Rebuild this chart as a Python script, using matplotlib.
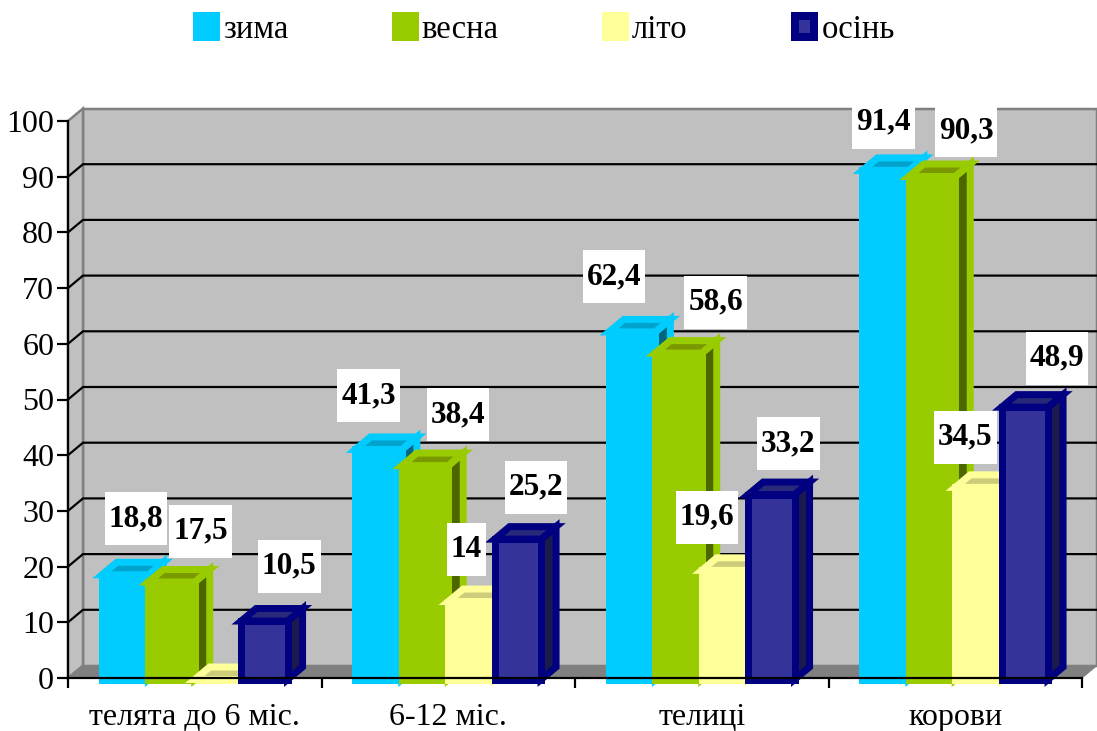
import matplotlib
matplotlib.use("Agg")
import matplotlib.pyplot as plt
from matplotlib.patches import Polygon, Patch
from matplotlib.path import Path

plt.rcParams['font.family'] = ['Liberation Serif', 'DejaVu Serif']

categories = ["телята до 6 міс.", "6-12 міс.", "телиці", "корови"]
series_names = ["зима", "весна", "літо", "осінь"]
winter = [18.8, 41.3, 62.4, 91.4]
spring = [17.5, 38.4, 58.6, 90.3]
summer = [0, 14, 19.6, 34.5]
autumn = [10.5, 25.2, 33.2, 48.9]
value_ticks = list(range(0, 101, 10))
# Labels printed on the chart ("" = none, as in the source)
winter_labels = ["18,8", "41,3", "62,4", "91,4"]
spring_labels = ["17,5", "38,4", "58,6", "90,3"]
summer_labels = ["", "14", "19,6", "34,5"]
autumn_labels = ["10,5", "25,2", "33,2", "48,9"]

series = [winter, spring, summer, autumn]
labels = [winter_labels, spring_labels, summer_labels, autumn_labels]

# Styles: edge, front, top, side
STYLES = [
    ("#00CCFF", "#00CCFF", "#00A3CC", "#006680"),
    ("#99CC00", "#99CC00", "#7A9900", "#4D6600"),
    ("#FFFF99", "#FFFF99", "#CCCC7A", "#808050"),
    ("#000080", "#333399", "#29297A", "#1A1A4D"),
]
# Label displacement from top centre of each bar, pixels (right, up)
LABEL_OFFSETS = [
    [(11, 56), (-10, 54), (-18, 55), (-2, 48)],
    [(29, 51), (33, 51), (37, 51), (34, 46)],
    [(0, 0), (-5, 52), (-18, 53), (-13, 50)],
    [(25, 55), (18, 52), (17, 51), (32, 49)],
]

W, H, DPI = 1097, 731, 100
PX = 72 / DPI
L, R, T, B = 68, 1082, 121, 678
CAT_PX = (R - L) / 4
VAL_PX = (B - T) / 100
DX = 15 / CAT_PX
DY = 12.5 / VAL_PX
BAR_W = 46.4 / CAT_PX
GAP = (1 - 4 * BAR_W) / 2
BASE = -1.5 / VAL_PX
STROKE = 7 * PX


class FixedBox:
    """White label box with a fixed height and fixed width (pixels)."""
    def __call__(self, x0, y0, width, height, mutation_size):
        cy = y0 + height / 2
        cx = x0 + width / 2
        half = width / 2 + 4
        xa, xb = cx - half, cx + half
        ya, yb = cy - 26.5, cy + 26.5
        return Path([(xa, ya), (xb, ya), (xb, yb), (xa, yb), (xa, ya)],
                    closed=True)


fig = plt.figure(figsize=(W / DPI, H / DPI), dpi=DPI, facecolor="white")
ax = fig.add_axes([L / W, 1 - B / H, (R - L) / W, (B - T) / H])
ax.set_xlim(0, 4)
ax.set_ylim(0, 100)
ax.patch.set_visible(False)

# Walls and floor
wall_kw = dict(closed=True, clip_on=False, joinstyle="miter")
ax.add_patch(Polygon([(DX, DY), (4 + DX, DY), (4 + DX, 100 + DY), (DX, 100 + DY)],
                     fc="#C0C0C0", ec="#808080", lw=2.5 * PX, zorder=1, **wall_kw))
ax.add_patch(Polygon([(0, 0), (DX, DY), (DX, 100 + DY), (0, 100)],
                     fc="#C0C0C0", ec="#808080", lw=2.5 * PX, zorder=1, **wall_kw))
ax.add_patch(Polygon([(0, 0), (DX, DY), (4 + DX, DY), (4, 0)],
                     fc="#808080", ec="#808080", lw=1 * PX, zorder=1.1, **wall_kw))
for v in value_ticks[1:-1]:
    ax.plot([0, DX, 4 + DX], [v, v + DY, v + DY], color="black", lw=2.2 * PX,
            clip_on=False, zorder=1.2, solid_joinstyle="miter")

# Bars
z = 3.0
for c in range(len(categories)):
    for s, vals in enumerate(series):
        v = vals[c]
        edge, front, top, side = STYLES[s]
        x0 = c + GAP + s * BAR_W
        x1 = x0 + BAR_W
        y0, y1 = BASE, BASE + v
        ax.add_patch(Polygon([(x1, y0), (x1 + DX, y0 + DY), (x1 + DX, y1 + DY), (x1, y1)],
                             fc=side, ec=edge, lw=STROKE, zorder=z, **wall_kw))
        ax.add_patch(Polygon([(x0, y1), (x0 + DX, y1 + DY), (x1 + DX, y1 + DY), (x1, y1)],
                             fc=top, ec=edge, lw=STROKE, zorder=z, **wall_kw))
        ax.bar(x0, v, width=BAR_W, bottom=BASE, align="edge", color=front,
               edgecolor=edge, linewidth=STROKE, clip_on=False, zorder=z + 0.01)
        z += 0.1

# Data labels
for c in range(len(categories)):
    for s, vals in enumerate(series):
        text = labels[s][c]
        if not text:
            continue
        xc = c + GAP + (s + 0.5) * BAR_W
        ox, oy = LABEL_OFFSETS[s][c]
        ax.annotate(text, xy=(xc, BASE + vals[c]), xytext=(ox * PX, oy * PX),
                    textcoords="offset points", ha="center", va="center",
                    fontsize=22.5, fontweight="bold", color="black",
                    annotation_clip=False, zorder=100,
                    bbox=dict(boxstyle=FixedBox(), fc="white", ec="none"))

# Axes
for name in ("top", "right"):
    ax.spines[name].set_visible(False)
for name in ("left", "bottom"):
    ax.spines[name].set_linewidth(2.2 * PX)
    ax.spines[name].set_color("black")
    ax.spines[name].set_zorder(50)
ax.set_yticks(value_ticks)
ax.set_xticks(range(len(categories) + 1))
ax.set_xticklabels([])
ax.set_xticks([i + 0.5 for i in range(len(categories))], minor=True)
ax.set_xticklabels(categories, minor=True)
ax.tick_params(axis="x", which="major", length=10 * PX, width=2.2 * PX, zorder=50)
ax.tick_params(axis="x", which="minor", length=0, pad=13.5 * PX + 8, labelsize=23)
ax.tick_params(axis="y", which="major", length=11 * PX, width=2.2 * PX,
               pad=2, labelsize=23)

# Legend
handles = [Patch(facecolor=st[1], edgecolor=st[0], linewidth=8 * PX, label=n)
           for n, st in zip(series_names, STYLES)]
fig.legend(handles=handles, ncol=4, frameon=False, fontsize=23.5,
           loc="upper left", bbox_to_anchor=(0.1705, 0.9935),
           handlelength=0.58, handleheight=0.61, handletextpad=0.22,
           columnspacing=3.29, borderaxespad=0, borderpad=0.3)

fig.savefig("out.png", dpi=DPI, facecolor="white")
